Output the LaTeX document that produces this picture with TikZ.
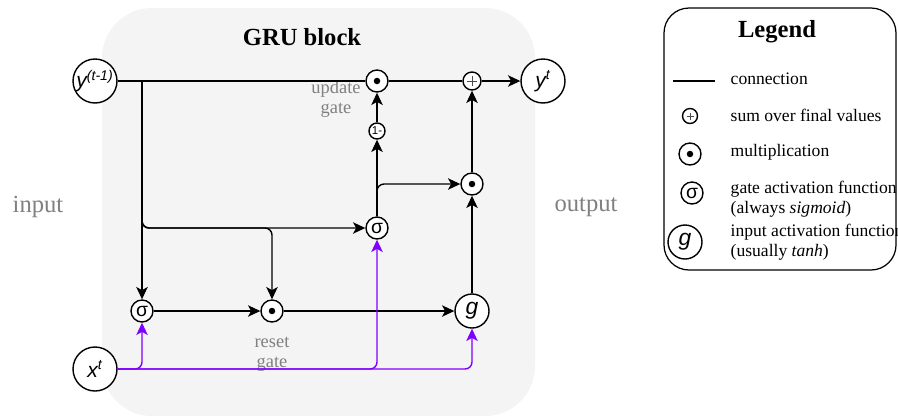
\documentclass[tikz,border=0pt]{standalone}
\usepackage{fontspec}
\setmainfont{Liberation Serif}
\newfontfamily\opfont{Liberation Sans}
\usetikzlibrary{positioning,arrows.meta}
\definecolor{blockgray}{HTML}{F4F4F4}
\definecolor{inputviolet}{HTML}{7F00FF}
\definecolor{labelgray}{HTML}{808080}

\begin{document}
\begin{tikzpicture}[x=0.02cm, y=-0.02cm, line width=0.8pt,
    op/.style={draw, circle, fill=white, inner sep=0pt, minimum size=0.44cm, font=\opfont\fontsize{11}{11}\selectfont},
    io/.style={op, minimum size=0.88cm, font=\opfont\itshape\fontsize{12}{12}\selectfont},
    gnode/.style={op, minimum size=0.68cm, font=\opfont\itshape\fontsize{13}{13}\selectfont},
    dot/.style={op, path picture={\fill[black] (path picture bounding box.center) circle (0.065cm);}},
    sum/.style={op, minimum size=0.36cm, path picture={\draw[black!70, line width=0.5pt]
        ([xshift=0.08cm]path picture bounding box.west) -- ([xshift=-0.08cm]path picture bounding box.east)
        ([yshift=-0.08cm]path picture bounding box.north) -- ([yshift=0.08cm]path picture bounding box.south);}},
    flow/.style={-{Stealth[length=7pt,width=6.5pt,inset=1.8pt]}, rounded corners=4pt},
    xflow/.style={flow, draw=inputviolet},
    gatelabel/.style={text=labelgray, align=center, font=\fontsize{10.5}{11.5}\selectfont},
    side/.style={text=labelgray, font=\fontsize{14}{14}\selectfont},
    legtext/.style={anchor=west, align=left, inner sep=0pt, font=\fontsize{10}{11.5}\selectfont}]
    \useasboundingbox (0,0) rectangle (898,417);

    \fill[blockgray, rounded corners=1cm] (102,8) rectangle (535,416);
    \node[font=\bfseries\fontsize{14}{14}\selectfont] (title) at (302,37) {GRU block};

    \node[io] (yprev) at (95,81) {y\textsuperscript{(t-1)}};
    \node[io] (ynext) at (543,81) {y\textsuperscript{t}};
    \node[io] (xt) at (95,369) {x\textsuperscript{t}};
    \node[dot] (upd) at (377,81) {};
    \node[sum] (plus) at (472,81) {};
    \node[op, minimum size=0.32cm, font=\opfont\fontsize{6.5}{6.5}\selectfont] (inv) at (377,131) {1-};
    \node[dot] (mix) at (472,184) {};
    \node[op] (sigu) at (377,228) {σ};
    \node[op] (sigr) at (142,311) {σ};
    \node[dot] (rst) at (272,311) {};
    \node[gnode] (g) at (472,311) {g};

    \node[gatelabel] (updlbl) at (336,99) {update\\gate};
    \node[gatelabel, below=0.15cm of rst] (rstlbl) {reset\\gate};
    \node[side] (inlbl) at (38,207) {input};
    \node[side] (outlbl) at (586,207) {output};

    \coordinate (ysplit) at (yprev.east -| sigr);
    \draw (yprev) -- (upd);
    \draw (upd) -- (plus);
    \draw[flow] (plus) -- (ynext);
    \draw[flow] (ysplit) -- (sigr);
    \draw[flow] (ysplit) |- (sigu);
    \draw[flow] (ysplit) |- (rst |- sigu) -- (rst);
    \draw[flow] (sigr) -- (rst);
    \draw[flow] (rst) -- (g);
    \draw[flow] (sigu) -- (inv);
    \draw[flow] (inv) -- (upd);
    \draw[flow] (sigu) |- (mix);
    \draw[flow] (g) -- (mix);
    \draw[flow] (mix) -- (plus);
    \draw[xflow] (xt) -| (sigr);
    \draw[xflow] (xt) -| (sigu);
    \draw[xflow] (xt) -| (g);

    \draw[line width=0.7pt, rounded corners=0.5cm] (664,8) rectangle (896,270);
    \node[font=\bfseries\fontsize{14}{14}\selectfont] (legtitle) at (777,32) {Legend};
    \coordinate (lga) at (673,81);
    \coordinate (lgb) at (715,81);
    \draw[line width=0.7pt] (lga) -- (lgb);
    \node[legtext] (lgconn) at (730,79) {connection};
    \node[sum, minimum size=0.3cm] (lgsum) at (690,116) {};
    \node[legtext] (lgsumtxt) at (730,115) {sum over final values};
    \node[dot] (lgdot) at (690,154) {};
    \node[legtext] (lgdottxt) at (730,152) {multiplication};
    \node[op] (lgsig) at (692,193) {σ};
    \node[legtext] (lgsigtxt) at (730,199) {gate activation function\\(always \textit{sigmoid})};
    \node[gnode] (lgg) at (685,242) {g};
    \node[legtext] (lggtxt) at (730,242) {input activation function\\(usually \textit{tanh})};
\end{tikzpicture}
\end{document}
